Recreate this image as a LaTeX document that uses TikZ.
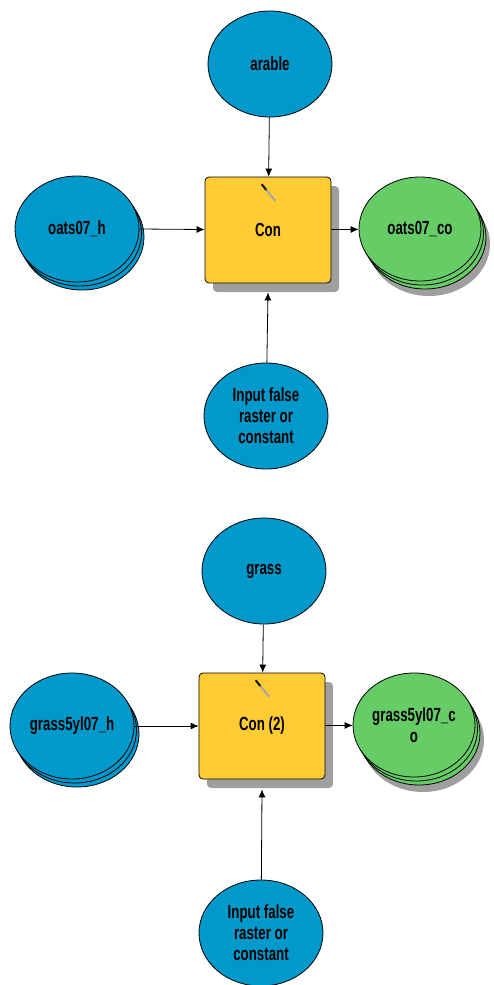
\documentclass[tikz,border=0pt]{standalone}
\usepackage{fontspec}
\setmainfont{Liberation Sans}[FakeStretch=0.7]
\usetikzlibrary{shapes.geometric,shadows,arrows.meta}

\definecolor{rasterblue}{RGB}{0,153,204}
\definecolor{outgreen}{RGB}{102,204,102}
\definecolor{toolyellow}{RGB}{255,204,51}

\begin{document}
\begin{tikzpicture}[x=1pt,y={(0pt,-1pt)},line width=0.8pt,
    every node/.style={font=\fontsize{19}{21}\selectfont\bfseries,align=center,inner sep=0pt},
    var/.style={draw,ellipse,fill=rasterblue,minimum width=124pt,minimum height=106pt},
    stack/.style={var,double copy shadow={shadow xshift=2.5pt,shadow yshift=-4pt}},
    outstack/.style={draw,ellipse,fill=outgreen,minimum width=122pt,minimum height=104pt,
        drop shadow={shadow xshift=9pt,shadow yshift=-15pt,fill=gray!75,draw=none,opacity=1},
        double copy shadow={shadow xshift=2.5pt,shadow yshift=-4pt}},
    tool/.style={draw,fill=toolyellow,rounded corners=4pt,minimum width=126pt,minimum height=106pt,
        drop shadow={shadow xshift=8pt,shadow yshift=-9pt,fill=gray!75,draw=none,opacity=1}},
    link/.style={-{Latex[length=8pt,width=7pt]}}]
    \useasboundingbox (0,0) rectangle (493,985);

    % nodes
    \node[var] (arable) at (270,64) {arable};
    \node[tool] (conA) at (268,230) {Con};
    \node[stack] (oatsH) at (77,229) {oats07\_h};
    \node[outstack] (oatsCo) at (420,229) {oats07\_co};
    \node[var] (falseA) at (266,416) {Input false\\raster or\\constant};

    \node[var] (grass) at (264,571) {grass};
    \node[tool] (conB) at (262,726) {Con (2)};
    \node[stack] (grassH) at (72,726) {grass5yl07\_h};
    \node[outstack] (grassCo) at (414,725) {grass5yl07\_c\\o};
    \node[var] (falseB) at (261,933) {Input false\\raster or\\constant};

    % edges
    \draw[link] (arable) -- (conA);
    \draw[link] (oatsH.east) -- (conA);
    \draw[link] (conA) -- (oatsCo);
    \draw[link] (falseA) -- ([yshift=-9pt]conA.south);

    \draw[link] (grass) -- (conB);
    \draw[link] (grassH.east) -- (conB);
    \draw[link] (conB) -- (grassCo);
    \draw[link] (falseB) -- ([yshift=-10pt]conB.south);

    % tool marks
    \foreach \t in {conA,conB}{
        \draw[gray!70,line width=2pt,line cap=round] ([xshift=-6pt,yshift=-8pt]\t.north) -- ([xshift=7pt,yshift=-24pt]\t.north);
        \draw[gray!20!black,line width=2pt,line cap=round] ([xshift=-6pt,yshift=-8pt]\t.north) -- ([xshift=-2pt,yshift=-13pt]\t.north);
    }
\end{tikzpicture}
\end{document}
